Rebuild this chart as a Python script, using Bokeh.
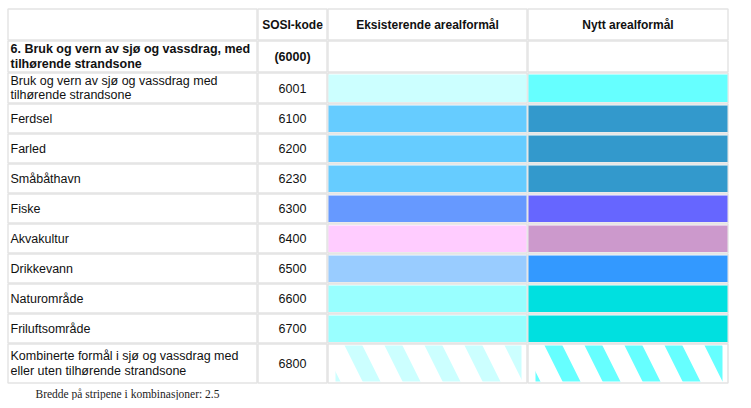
from bokeh.plotting import figure
from bokeh.models import Range1d
from bokeh.core.properties import value
from bokeh.embed import file_html
from bokeh.resources import INLINE

# ---- data ----
headers = ["", "SOSI-kode", "Eksisterende arealformål", "Nytt arealformål"]
labels = [
    "6. Bruk og vern av sjø og vassdrag, med\ntilhørende strandsone",
    "Bruk og vern av sjø og vassdrag med\ntilhørende strandsone",
    "Ferdsel", "Farled", "Småbåthavn", "Fiske", "Akvakultur", "Drikkevann",
    "Naturområde", "Friluftsområde",
    "Kombinerte formål i sjø og vassdrag med\neller uten tilhørende strandsone",
]
codes = ["(6000)", "6001", "6100", "6200", "6230", "6300", "6400", "6500", "6600", "6700", "6800"]
existing_colors = [None, "#ccffff", "#66ccff", "#66ccff", "#66ccff", "#6699ff", "#ffccff",
                   "#99ccff", "#99ffff", "#99ffff", "#ccffff"]
new_colors = [None, "#66ffff", "#3399cc", "#3399cc", "#3399cc", "#6666ff", "#cc99cc",
              "#3399ff", "#00e0e0", "#00e0e0", "#66ffff"]
hatched = [False] * 10 + [True]
footer = "Bredde på stripene i kombinasjoner: 2.5"

# ---- layout (window pixel coordinates) ----
col_edges = [7, 257, 327, 527, 728]
row_heights = [32, 32, 31, 30, 30, 30, 30, 30, 30, 30, 30, 40]
row_edges = [8]
for h in row_heights:
    row_edges.append(row_edges[-1] + h)

W, H = 745, 400
p = figure(width=W, height=H, output_backend="svg", toolbar_location=None,
           x_range=Range1d(0, W), y_range=Range1d(H, 0),
           min_border=0, outline_line_color=None)
p.axis.visible = False
p.grid.visible = False
p.background_fill_color = "white"
p.border_fill_color = "white"

# cell borders
cl, cr, ct, cb = [], [], [], []
for r in range(len(row_heights)):
    for c in range(4):
        cl.append(col_edges[c] + 0.5)
        cr.append(col_edges[c + 1] - 0.5)
        ct.append(row_edges[r] + 0.5)
        cb.append(row_edges[r + 1] - 0.5)
p.quad(left=cl, right=cr, top=ct, bottom=cb, fill_color="white",
       line_color="#e4e4e4", line_width=1.5)

# colour cells
sl, sr, st, sb, sc = [], [], [], [], []
hl, hr, ht, hb, hc = [], [], [], [], []
for i in range(len(labels)):
    r = i + 1
    for c, cols in ((2, existing_colors), (3, new_colors)):
        col = cols[i]
        if col is None:
            continue
        if hatched[i]:
            hl.append(col_edges[c] + 8); hr.append(col_edges[c + 1] - 6)
            ht.append(row_edges[r] + 2); hb.append(row_edges[r + 1] - 2); hc.append(col)
        else:
            sl.append(col_edges[c] + 1); sr.append(col_edges[c + 1] - 1)
            st.append(row_edges[r] + 2); sb.append(row_edges[r + 1] - 1.5); sc.append(col)
p.quad(left=sl, right=sr, top=st, bottom=sb, fill_color=sc, line_color=None)
for l_, r_, t_, b_, c_ in zip(hl, hr, ht, hb, hc):
    p.quad(left=[l_], right=[r_], top=[t_], bottom=[b_], fill_color="white",
           line_color=None, hatch_pattern="left_diagonal_line", hatch_color=c_,
           hatch_scale=80, hatch_weight=16)

font = value("Liberation Sans")
# headers
hx = [(col_edges[c] + col_edges[c + 1]) / 2 for c in range(4)]
hy = [(row_edges[0] + row_edges[1]) / 2] * 4
p.text(x=hx, y=hy, text=headers, text_font=font, text_font_size="12px",
       text_font_style="bold", text_align="center", text_baseline="middle", text_color="#111111")

# labels
ly = [(row_edges[i + 1] + row_edges[i + 2]) / 2 for i in range(len(labels))]
p.text(x=[col_edges[0] + 3] * 1, y=ly[:1], text=labels[:1], text_font=font,
       text_font_size="12.5px", text_font_style="bold", text_align="left",
       text_baseline="middle", text_color="#111111", text_line_height=1.05)
p.text(x=[col_edges[0] + 3] * (len(labels) - 1), y=ly[1:], text=labels[1:], text_font=font,
       text_font_size="12.5px", text_align="left", text_baseline="middle",
       text_color="#111111", text_line_height=1.05)
cx = (col_edges[1] + col_edges[2]) / 2
p.text(x=[cx], y=ly[:1], text=codes[:1], text_font=font, text_font_size="12.5px",
       text_font_style="bold", text_align="center", text_baseline="middle", text_color="#111111")
p.text(x=[cx] * (len(codes) - 1), y=ly[1:], text=codes[1:], text_font=font,
       text_font_size="12.5px", text_align="center", text_baseline="middle", text_color="#111111")

# footer
p.text(x=[35], y=[row_edges[-1] + 10], text=[footer], text_font=value("Liberation Serif"),
       text_font_size="11.5px", text_align="left", text_baseline="middle", text_color="#222222")

open("out.html", "w").write(file_html(p, INLINE))
